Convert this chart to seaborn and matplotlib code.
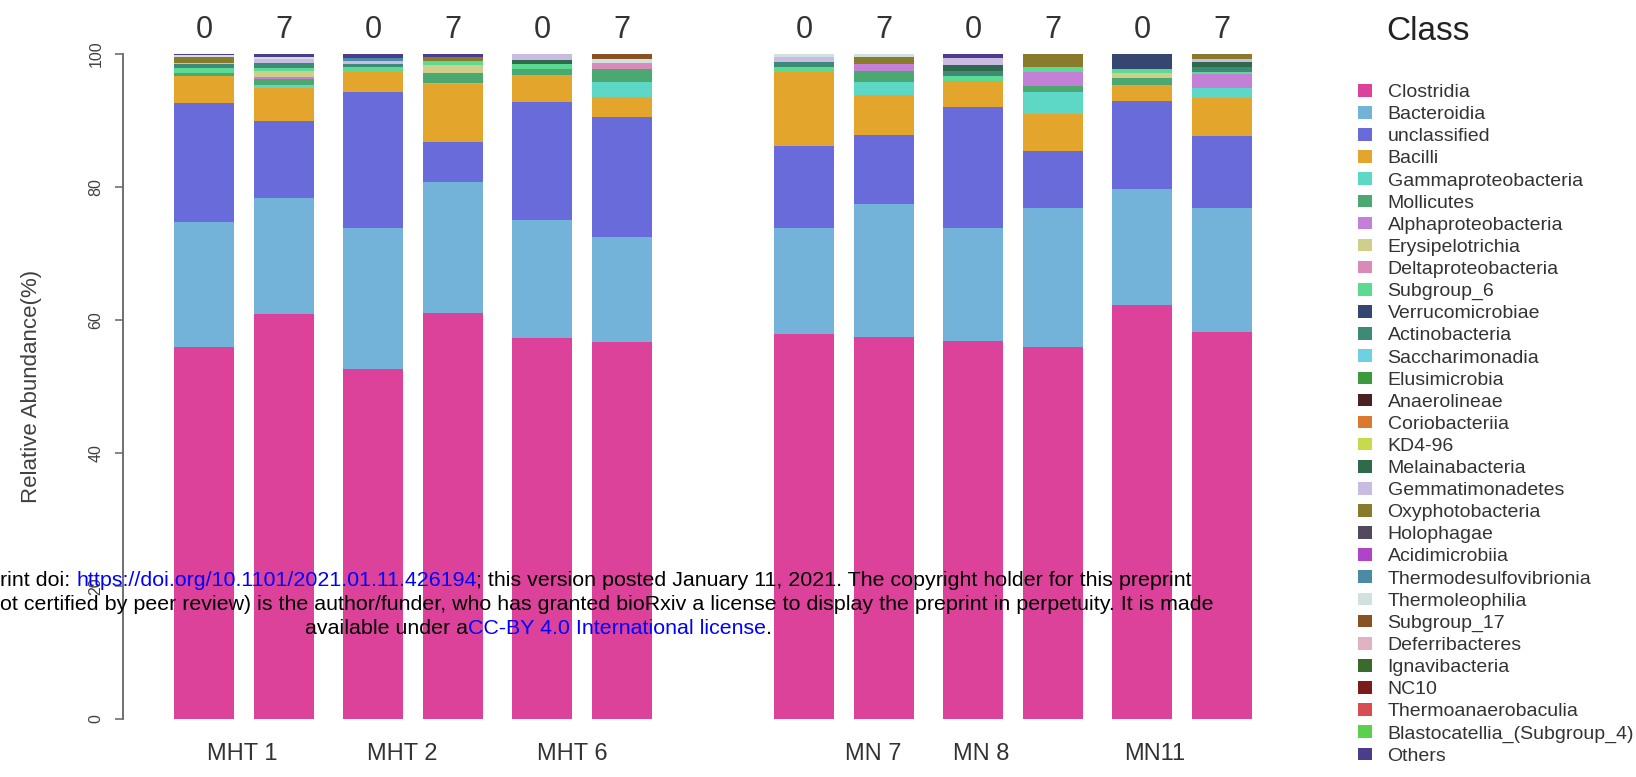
import matplotlib
matplotlib.use("Agg")
import matplotlib.pyplot as plt
from matplotlib.patches import Patch
import numpy as np
import seaborn as sns

# ---- data -----------------------------------------------------------------
groups = ["MHT 1", "MHT 2", "MHT 6", "MN 7", "MN 8", "MN11"]
days = ["0", "7"]

classes = [
    "Clostridia", "Bacteroidia", "unclassified", "Bacilli", "Gammaproteobacteria",
    "Mollicutes", "Alphaproteobacteria", "Erysipelotrichia", "Deltaproteobacteria",
    "Subgroup_6", "Verrucomicrobiae", "Actinobacteria", "Saccharimonadia",
    "Elusimicrobia", "Anaerolineae", "Coriobacteriia", "KD4-96", "Melainabacteria",
    "Gemmatimonadetes", "Oxyphotobacteria", "Holophagae", "Acidimicrobiia",
    "Thermodesulfovibrionia", "Thermoleophilia", "Subgroup_17", "Deferribacteres",
    "Ignavibacteria", "NC10", "Thermoanaerobaculia", "Blastocatellia_(Subgroup_4)",
    "Others",
]

class_colors = [
    "#dc4299", "#74b3d9", "#6a6bdb", "#e3a52c", "#5ed8c6",
    "#4aa870", "#c47fd6", "#cfcf8c", "#d98ab9",
    "#5cda92", "#354670", "#3e8a78", "#6fd0e2",
    "#3c9a3c", "#4a2222", "#d97a30", "#c9d94c", "#2f6a4c",
    "#c9bbe2", "#8a7a2c", "#524a5c", "#b044c8",
    "#4a8aa2", "#d2e0e0", "#8a5222", "#e2b2c2",
    "#3c6a2c", "#7a1c1c", "#d94c52", "#5ad04c",
    "#4c3c8c",
]

# relative abundance (%) per class, bars ordered MHT1-0, MHT1-7, ..., MN11-0, MN11-7
clostridia = [56.0, 60.9, 52.7, 61.1, 57.3, 56.7, 57.9, 57.5, 56.8, 55.9, 62.3, 58.2]
bacteroidia = [18.7, 17.4, 21.1, 19.6, 17.7, 15.8, 15.9, 19.9, 17.0, 21.0, 17.4, 18.6]
unclassified = [18.0, 11.7, 20.45, 6.1, 17.85, 18.0, 12.4, 10.4, 18.2, 8.5, 13.3, 10.8]
bacilli = [4.0, 4.9, 3.1, 8.7, 4.0, 3.0, 11.05, 6.05, 4.0, 5.6, 2.35, 5.75]
gammaproteobacteria = [0.0, 0.4, 0.0, 0.2, 0.0, 2.25, 0.0, 1.9, 0.0, 3.35, 0.0, 1.6]
mollicutes = [0.4, 1.0, 0.0, 1.4, 0.85, 2.0, 0.0, 1.75, 0.0, 0.9, 1.0, 0.0]
alphaproteobacteria = [0.0, 0.2, 0.0, 0.0, 0.0, 0.0, 0.0, 1.0, 0.0, 2.0, 0.0, 2.0]
erysipelotrichia = [0.0, 0.9, 0.0, 1.2, 0.0, 0.0, 0.0, 0.0, 0.0, 0.0, 0.75, 0.0]
deltaproteobacteria = [0.0, 0.0, 0.0, 0.0, 0.0, 0.9, 0.0, 0.0, 0.0, 0.0, 0.0, 0.0]
subgroup_6 = [0.8, 0.5, 0.65, 0.7, 0.8, 0.0, 0.75, 0.0, 0.75, 0.75, 0.65, 0.4]
verrucomicrobiae = [0.0, 0.0, 0.0, 0.0, 0.0, 0.0, 0.0, 0.0, 0.0, 0.0, 2.25, 0.0]
actinobacteria = [0.6, 0.7, 0.5, 0.0, 0.0, 0.0, 0.75, 0.0, 0.75, 0.0, 0.0, 0.65]
melainabacteria = [0.0, 0.0, 0.0, 0.0, 0.65, 0.0, 0.0, 0.0, 0.85, 0.0, 0.0, 0.75]
gemmatimonadetes = [0.2, 0.6, 0.5, 0.0, 0.85, 0.0, 0.75, 0.0, 1.0, 0.0, 0.0, 0.5]
oxyphotobacteria = [0.8, 0.0, 0.0, 0.6, 0.0, 0.0, 0.0, 1.0, 0.0, 2.0, 0.0, 0.75]
thermodesulfovibrionia = [0.0, 0.0, 0.35, 0.0, 0.0, 0.0, 0.0, 0.0, 0.0, 0.0, 0.0, 0.0]
thermoleophilia = [0.3, 0.4, 0.0, 0.0, 0.0, 0.6, 0.5, 0.5, 0.0, 0.0, 0.0, 0.0]
subgroup_17 = [0.0, 0.0, 0.0, 0.0, 0.0, 0.75, 0.0, 0.0, 0.0, 0.0, 0.0, 0.0]
others = [0.2, 0.4, 0.65, 0.4, 0.0, 0.0, 0.0, 0.0, 0.65, 0.0, 0.0, 0.0]
absent = [0.0] * 12

class_values = [
    clostridia, bacteroidia, unclassified, bacilli, gammaproteobacteria,
    mollicutes, alphaproteobacteria, erysipelotrichia, deltaproteobacteria,
    subgroup_6, verrucomicrobiae, actinobacteria, absent,
    absent, absent, absent, absent, melainabacteria,
    gemmatimonadetes, oxyphotobacteria, absent, absent,
    thermodesulfovibrionia, thermoleophilia, subgroup_17, absent,
    absent, absent, absent, absent,
    others,
]

# ---- layout ---------------------------------------------------------------
sns.set_theme(style="ticks")
plt.rcParams["font.family"] = ["Liberation Sans", "DejaVu Sans"]

W, H = 1636, 777
fig = plt.figure(figsize=(W / 100, H / 100), dpi=100)
ax_left, ax_right, ax_top, ax_bottom = 123, 1300, 54, 719
ax = fig.add_axes([ax_left / W, 1 - ax_bottom / H,
                   (ax_right - ax_left) / W, (ax_bottom - ax_top) / H])

# bar positions: two sites, three samples each, days 0 and 7 side by side
xpos = []
for g in range(len(groups)):
    site, sample = divmod(g, 3)
    for d in range(len(days)):
        xpos.append(site * 7.1 + sample * 2.0 + d * 0.95)
xpos = np.array(xpos)

# stacked bars: draw cumulative totals from the top class downwards
cum = np.cumsum(np.array(class_values), axis=0)
for k in range(len(classes) - 1, -1, -1):
    sns.barplot(x=xpos, y=cum[k], color=class_colors[k], native_scale=True,
                width=0.747, errorbar=None, saturation=1, linewidth=0, ax=ax)

x_per_px = 1 / 84.5
ax.set_xlim(-(204 - ax_left) * x_per_px, (ax_right - 204) * x_per_px)
ax.set_ylim(0, 100)
ax.set_xticks([])
ax.set_xlabel("")

for side in ("top", "right", "bottom"):
    ax.spines[side].set_visible(False)
ax.spines["left"].set_bounds(0, 100)
ax.spines["left"].set_color("#707070")
ax.spines["left"].set_linewidth(1.4)
ax.set_yticks([0, 20, 40, 60, 80, 100])
ax.set_yticklabels(["0", "20", "40", "60", "80", "100"])
ax.tick_params(axis="y", left=True, direction="out", length=6, width=1.2,
               color="#707070", labelsize=11.5, labelcolor="#404040", pad=8,
               labelrotation=90)
for lbl in ax.get_yticklabels():
    lbl.set_va("center")
ax.set_ylabel("Relative Abundance(%)", fontsize=16, color="#404040")
ax.yaxis.set_label_coords((42 - ax_left) / (ax_right - ax_left), 0.5)

# day labels above each bar
for i, x in enumerate(xpos):
    ax.text(x, 103.65, days[i % 2], ha="center", va="center", fontsize=22,
            color="#333333", clip_on=False)

# sample labels under each pair
group_label_x = [0.45, 2.35, 4.36, 7.92, 9.2, 11.25]
for name, x in zip(groups, group_label_x):
    ax.text(x, -5.3, name, ha="center", va="center", fontsize=17,
            color="#333333", clip_on=False)

# legend
fig.text(1386 / W, 1 - 32 / H, "Class", fontsize=24, color="#222222",
         ha="left", va="center")
handles = [Patch(facecolor=c, edgecolor="none") for c in class_colors]
fig.legend(handles, classes, loc="upper left",
           bbox_to_anchor=(1358 / W, 1 - 84 / H), frameon=False, fontsize=14,
           handlelength=0.72, handleheight=0.62, handletextpad=0.8,
           labelspacing=0.255, borderpad=0, borderaxespad=0,
           labelcolor="#333333")

# preprint notice printed across the figure
NOTE_SIZE = 15.4


def note_line(parts, x, y):
    first = fig.text(x, y, parts[0][0], color=parts[0][1], fontsize=NOTE_SIZE,
                     ha="left", va="center", zorder=10)
    prev = first
    for s, c in parts[1:]:
        prev = ax.annotate(s, xy=(1, 0), xycoords=prev, va="bottom", ha="left",
                           color=c, fontsize=NOTE_SIZE, zorder=10,
                           annotation_clip=False)
    return first


blue = "#0000ff"
note_line([("rint doi: ", "black"),
           ("https://doi.org/10.1101/2021.01.11.426194", blue),
           ("; this version posted January 11, 2021. The copyright holder for this preprint", "black")],
          0, 1 - 581 / H)
note_line([("ot certified by peer review) is the author/funder, who has granted bioRxiv a license to display the preprint in perpetuity. It is made", "black")],
          0, 1 - 605 / H)
note_line([("available under a", "black"),
           ("CC-BY 4.0 International license", blue),
           (".", "black")],
          305 / W, 1 - 628 / H)

fig.savefig("out.png", dpi=100)
